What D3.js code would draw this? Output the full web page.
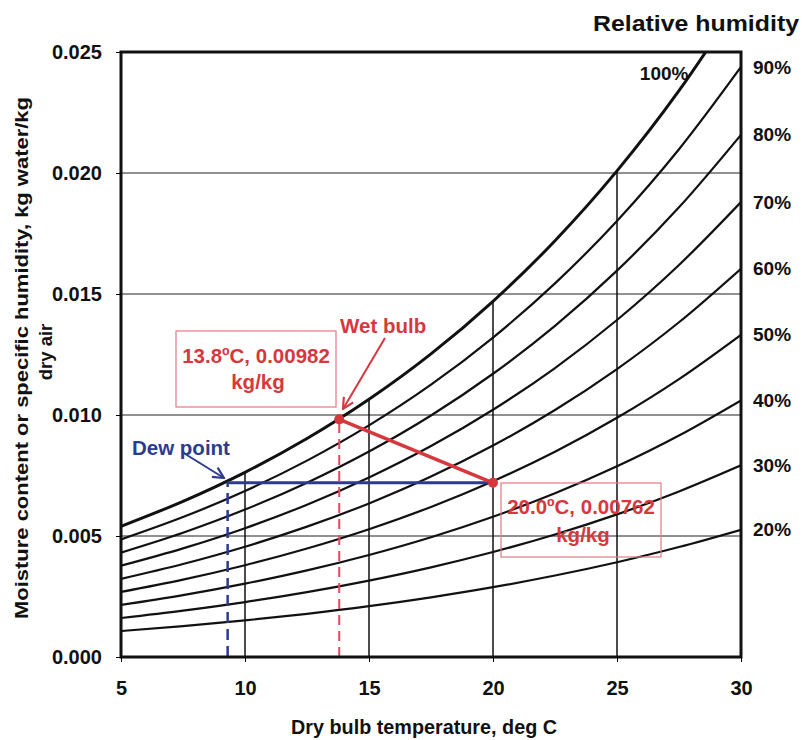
<!DOCTYPE html>
<html>
<head>
<meta charset="utf-8">
<script src="https://cdn.jsdelivr.net/npm/d3@7"></script>
<style>
body { margin: 0; background: #fff; }
text { font-family: "Liberation Sans", Arial, sans-serif; font-weight: bold; }
</style>
</head>
<body>
<div id="chart"></div>
<script>
// Psychrometric chart - moisture content vs dry bulb temperature

// dry bulb temperatures (deg C) where the curves were read
var temps = [5, 7.5, 10, 12.5, 15, 17.5, 20, 22.5, 25, 27.5, 30];

// moisture content (kg/kg) for each relative humidity curve
var rh100 = [0.005403, 0.006432, 0.007632, 0.009028, 0.010650, 0.012526, 0.014699, 0.017201, 0.020086, 0.023401, 0.027210];
var rh90 = [0.004858, 0.005782, 0.006860, 0.008114, 0.009569, 0.011251, 0.013198, 0.015438, 0.018019, 0.020982, 0.024382];
var rh80 = [0.004315, 0.005135, 0.006091, 0.007202, 0.008491, 0.009981, 0.011704, 0.013685, 0.015966, 0.018581, 0.021579];
var rh70 = [0.003772, 0.004488, 0.005323, 0.006292, 0.007417, 0.008716, 0.010217, 0.011941, 0.013925, 0.016198, 0.018800];
var rh60 = [0.003230, 0.003843, 0.004557, 0.005386, 0.006347, 0.007456, 0.008737, 0.010207, 0.011898, 0.013832, 0.016045];
var rh50 = [0.002690, 0.003199, 0.003793, 0.004482, 0.005280, 0.006201, 0.007264, 0.008483, 0.009884, 0.011484, 0.013314];
var rh40 = [0.002150, 0.002557, 0.003031, 0.003580, 0.004217, 0.004951, 0.005797, 0.006768, 0.007882, 0.009154, 0.010605];
var rh30 = [0.001611, 0.001916, 0.002270, 0.002681, 0.003157, 0.003706, 0.004338, 0.005062, 0.005893, 0.006840, 0.007920];
var rh20 = [0.001073, 0.001276, 0.001512, 0.001785, 0.002101, 0.002466, 0.002885, 0.003366, 0.003916, 0.004543, 0.005258];

var rhLabels = ["100%", "90%", "80%", "70%", "60%", "50%", "40%", "30%", "20%"];

var xTicks = [5, 10, 15, 20, 25, 30];
var yTicks = [0.000, 0.005, 0.010, 0.015, 0.020, 0.025];
var gridTemps = [10, 15, 20, 25];

// marked states
var wetBulb = { t: 13.8, w: 0.00982 };
var statePoint = { t: 20.0, w: 0.0072 };
var dewPoint = { t: 9.3, w: 0.0072 };
var wetLabel = ["13.8\u00baC, 0.00982", "kg/kg"];
var stateLabel = ["20.0\u00baC, 0.00762", "kg/kg"];

var svgWidth = 802;
var svgHeight = 740;

var margin = { top: 52, right: 61, bottom: 83, left: 121 };
var width = svgWidth - margin.left - margin.right;
var height = svgHeight - margin.top - margin.bottom;

var red = "#d6383e";
var blue = "#2c3b8e";

var svg = d3.select("#chart")
    .append("svg")
    .attr("width", svgWidth)
    .attr("height", svgHeight);

var defs = svg.append("defs");
defs.append("clipPath")
    .attr("id", "plotClip")
    .append("rect")
    .attr("width", width)
    .attr("height", height);

function addArrow(id, color) {
    defs.append("marker")
        .attr("id", id)
        .attr("viewBox", "0 0 12 12")
        .attr("refX", 11)
        .attr("refY", 6)
        .attr("markerWidth", 13)
        .attr("markerHeight", 13)
        .attr("markerUnits", "userSpaceOnUse")
        .attr("orient", "auto")
        .append("path")
        .attr("d", "M1,1 L11,6 L1,11")
        .attr("fill", "none")
        .attr("stroke", color)
        .attr("stroke-width", 2);
}
addArrow("arrowRed", red);
addArrow("arrowBlue", blue);

var chartGroup = svg.append("g")
    .attr("transform", `translate(${margin.left}, ${margin.top})`);

var xScale = d3.scaleLinear().domain([5, 30]).range([0, width]);
var yScale = d3.scaleLinear().domain([0, 0.025]).range([height, 0]);

// horizontal grid lines, full width
chartGroup.append("g")
    .selectAll("line")
    .data(yTicks.filter(d => d > 0 && d < 0.025))
    .enter()
    .append("line")
    .attr("x1", 0)
    .attr("x2", width)
    .attr("y1", d => yScale(d))
    .attr("y2", d => yScale(d))
    .attr("stroke", "#222")
    .attr("stroke-width", 1);

// vertical grid lines, only up to the saturation curve
chartGroup.append("g")
    .selectAll("line")
    .data(gridTemps)
    .enter()
    .append("line")
    .attr("x1", d => xScale(d))
    .attr("x2", d => xScale(d))
    .attr("y1", height)
    .attr("y2", d => yScale(rh100[temps.indexOf(d)]))
    .attr("stroke", "#111")
    .attr("stroke-width", 1.5);

// relative humidity curves
var series = [rh100, rh90, rh80, rh70, rh60, rh50, rh40, rh30, rh20].map(function(vals, i) {
    return { label: rhLabels[i], values: vals.map((w, j) => ({ t: temps[j], w: w })) };
});

var line = d3.line()
    .x(d => xScale(d.t))
    .y(d => yScale(d.w))
    .curve(d3.curveMonotoneX);

chartGroup.append("g")
    .attr("clip-path", "url(#plotClip)")
    .selectAll("path")
    .data(series)
    .enter()
    .append("path")
    .attr("d", d => line(d.values))
    .attr("fill", "none")
    .attr("stroke", "#111")
    .attr("stroke-width", (d, i) => i === 0 ? 3 : 2.2);

// right-hand RH labels, at the end of each curve
chartGroup.append("g")
    .selectAll("text")
    .data(series.slice(1))
    .enter()
    .append("text")
    .attr("x", width + 12)
    .attr("y", d => yScale(d.values[d.values.length - 1].w))
    .attr("dy", "0.35em")
    .attr("font-size", 19)
    .attr("fill", "#111")
    .text(d => d.label);

chartGroup.append("text")
    .attr("x", xScale(26.9))
    .attr("y", yScale(0.0241))
    .attr("dy", "0.35em")
    .attr("text-anchor", "middle")
    .attr("font-size", 19)
    .attr("fill", "#111")
    .text(series[0].label);

// dashed drops to the axis
chartGroup.append("line")
    .attr("x1", xScale(dewPoint.t))
    .attr("x2", xScale(dewPoint.t))
    .attr("y1", height)
    .attr("y2", yScale(dewPoint.w))
    .attr("stroke", blue)
    .attr("stroke-width", 2.5)
    .attr("stroke-dasharray", "11,6");

chartGroup.append("line")
    .attr("x1", xScale(wetBulb.t))
    .attr("x2", xScale(wetBulb.t))
    .attr("y1", height)
    .attr("y2", yScale(wetBulb.w))
    .attr("stroke", "#e04a5a")
    .attr("stroke-width", 2)
    .attr("stroke-dasharray", "10,6");

// dew point line and wet bulb line
chartGroup.append("line")
    .attr("x1", xScale(dewPoint.t))
    .attr("x2", xScale(statePoint.t))
    .attr("y1", yScale(dewPoint.w))
    .attr("y2", yScale(statePoint.w))
    .attr("stroke", blue)
    .attr("stroke-width", 3);

chartGroup.append("line")
    .attr("x1", xScale(wetBulb.t))
    .attr("x2", xScale(statePoint.t))
    .attr("y1", yScale(wetBulb.w))
    .attr("y2", yScale(statePoint.w))
    .attr("stroke", red)
    .attr("stroke-width", 3.5);

chartGroup.selectAll(".marker")
    .data([wetBulb, statePoint])
    .enter()
    .append("circle")
    .attr("class", "marker")
    .attr("cx", d => xScale(d.t))
    .attr("cy", d => yScale(d.w))
    .attr("r", 5)
    .attr("fill", red);

// frame
chartGroup.append("rect")
    .attr("width", width)
    .attr("height", height)
    .attr("fill", "none")
    .attr("stroke", "#111")
    .attr("stroke-width", 3);

// axes
var leftAxis = d3.axisLeft(yScale)
    .tickValues(yTicks)
    .tickFormat(d3.format(".3f"))
    .tickSize(5)
    .tickPadding(14);
var yAxis = chartGroup.append("g").call(leftAxis);
yAxis.select(".domain").remove();
yAxis.selectAll("text").attr("font-size", 20).attr("fill", "#111");

var bottomAxis = d3.axisBottom(xScale)
    .tickValues(xTicks)
    .tickSize(5)
    .tickPadding(19);
var xAxis = chartGroup.append("g")
    .attr("transform", `translate(0, ${height})`)
    .call(bottomAxis);
xAxis.select(".domain").remove();
xAxis.selectAll("text")
    .attr("font-size", 20)
    .attr("fill", "#111")
    .style("font-family", "'Liberation Sans Narrow', 'Liberation Sans', Arial, sans-serif");

// annotation boxes
function labelBox(x0, y0, w, h, lines, y1, y2) {
    svg.append("rect")
        .attr("x", x0).attr("y", y0)
        .attr("width", w).attr("height", h)
        .attr("fill", "none")
        .attr("stroke", "#e07a80")
        .attr("stroke-width", 1.2);
    svg.append("text")
        .attr("x", x0 + w / 2).attr("y", y1)
        .attr("text-anchor", "middle")
        .attr("font-size", 20.5)
        .attr("fill", red)
        .text(lines[0]);
    svg.append("text")
        .attr("x", x0 + w / 2 + 2).attr("y", y2)
        .attr("text-anchor", "middle")
        .attr("font-size", 20.5)
        .attr("fill", red)
        .text(lines[1]);
}
labelBox(176, 331, 160, 76, wetLabel, 363, 389);
labelBox(501, 483, 160, 74, stateLabel, 514, 542);

svg.append("text")
    .attr("x", 340).attr("y", 333)
    .attr("font-size", 20.5)
    .attr("fill", red)
    .text("Wet bulb");
svg.append("line")
    .attr("x1", 385).attr("y1", 338)
    .attr("x2", 343).attr("y2", 409)
    .attr("stroke", red)
    .attr("stroke-width", 2)
    .attr("marker-end", "url(#arrowRed)");

svg.append("text")
    .attr("x", 132).attr("y", 455)
    .attr("font-size", 20.5)
    .attr("fill", blue)
    .text("Dew point");
svg.append("line")
    .attr("x1", 182).attr("y1", 452)
    .attr("x2", 224).attr("y2", 478)
    .attr("stroke", blue)
    .attr("stroke-width", 2)
    .attr("marker-end", "url(#arrowBlue)");

// titles
svg.append("text")
    .attr("x", 696).attr("y", 31)
    .attr("text-anchor", "middle")
    .attr("font-size", 22)
    .attr("fill", "#111")
    .attr("textLength", 206)
    .attr("lengthAdjust", "spacingAndGlyphs")
    .text("Relative humidity");

svg.append("text")
    .attr("x", 424).attr("y", 734)
    .attr("text-anchor", "middle")
    .attr("font-size", 20)
    .attr("fill", "#111")
    .attr("textLength", 266)
    .attr("lengthAdjust", "spacingAndGlyphs")
    .style("font-family", "'Liberation Sans Narrow', 'Liberation Sans', Arial, sans-serif")
    .text("Dry bulb temperature, deg C");

svg.append("text")
    .attr("transform", "translate(22, 358) rotate(-90)")
    .attr("dy", "0.35em")
    .attr("text-anchor", "middle")
    .attr("font-size", 18.5)
    .attr("fill", "#111")
    .attr("textLength", 522)
    .attr("lengthAdjust", "spacingAndGlyphs")
    .text("Moisture content or specific humidity, kg water/kg");

svg.append("text")
    .attr("transform", "translate(46, 352) rotate(-90)")
    .attr("dy", "0.35em")
    .attr("text-anchor", "middle")
    .attr("font-size", 18.5)
    .attr("fill", "#111")
    .text("dry air");
</script>
</body>
</html>
